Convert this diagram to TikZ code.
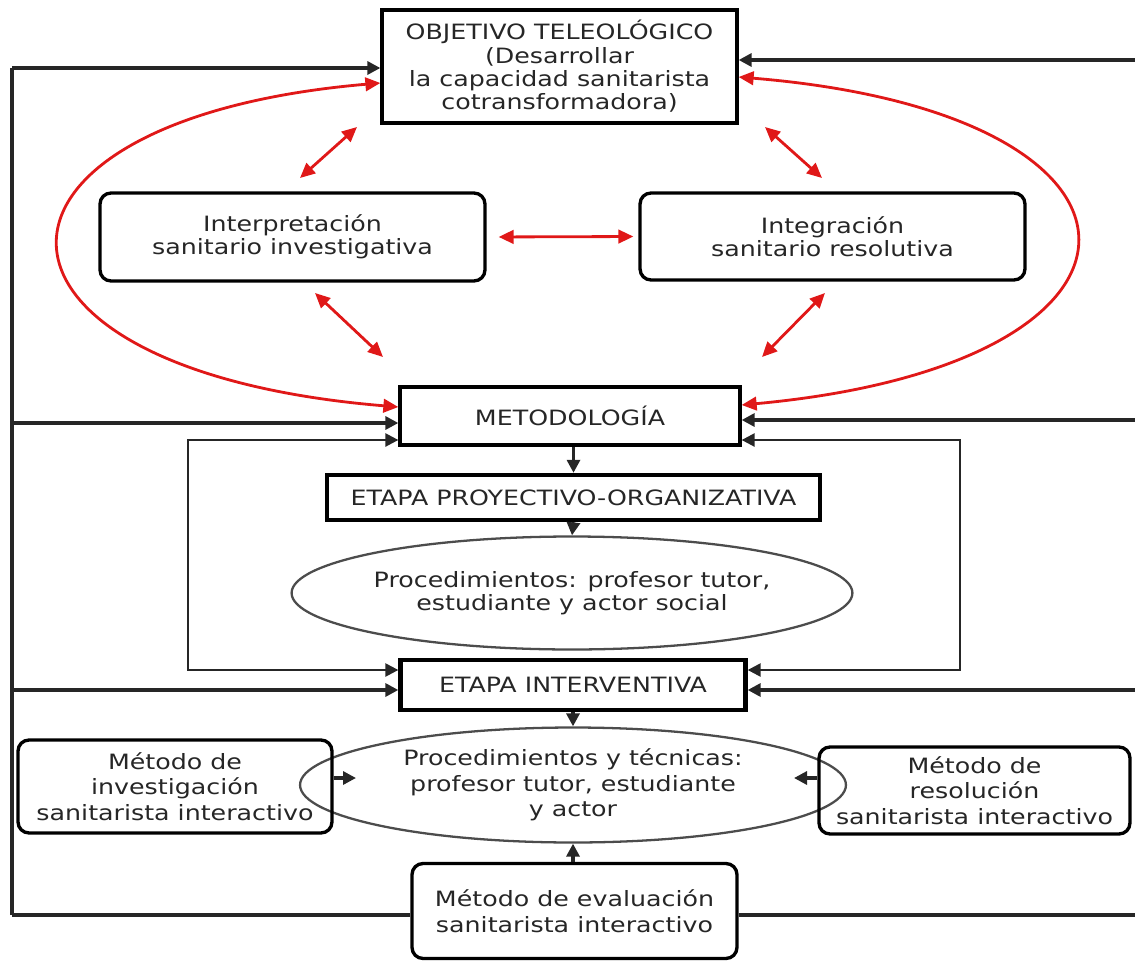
\documentclass[tikz,border=0pt]{standalone}
\usepackage{fontspec}
\setmainfont{DejaVu Sans}[FakeStretch=1.2]
\usetikzlibrary{arrows.meta,shapes.geometric,calc}
\definecolor{rd}{HTML}{E01818}
\begin{document}
\begin{tikzpicture}[x=0.02cm,y=-0.02cm,
  font=\fontsize{12}{13.3}\selectfont,
  loose/.style={font=\fontsize{12}{14.6}\selectfont},
  box/.style={draw, line width=1.9pt, align=center, inner sep=0pt, text=black!85},
  rbox/.style={box, rounded corners=0.22cm},
  ell/.style={draw=black!70, line width=1.3pt, ellipse, inner sep=0pt, align=center, text=black!85},
  blk/.style={line width=1.8pt, draw=black!85},
  thin/.style={line width=1.4pt, draw=black!85},
  arr/.style={blk, -{Triangle[length=0.26cm,width=0.26cm]}},
  tarr/.style={thin, -{Triangle[length=0.26cm,width=0.26cm]}},
  rarr/.style={line width=1.6pt, draw=rd, {Triangle[length=0.3cm,width=0.27cm]}-{Triangle[length=0.3cm,width=0.27cm]}}]
\useasboundingbox (0,0) rectangle (1135,963);

% nodes
\node[box, minimum width=7.1cm, minimum height=2.26cm] (obj) at (559.5,66.5) {OBJETIVO TELEOLÓGICO\\(Desarrollar\\la capacidad sanitarista\\cotransformadora)};
\node[rbox, minimum width=7.7cm, minimum height=1.76cm] (interp) at (292.5,237) {Interpretación\\sanitario investigativa};
\node[rbox, minimum width=7.7cm, minimum height=1.74cm] (integ) at (832.5,236.5) {Integración\\sanitario resolutiva};
\node[box, minimum width=6.8cm, minimum height=1.16cm] (met) at (570,416) {METODOLOGÍA};
\node[box, line width=2.5pt, minimum width=9.86cm, minimum height=0.9cm] (proy) at (573.5,497.5) {ETAPA PROYECTIVO-ORGANIZATIVA};
\node[ell, minimum width=11.2cm, minimum height=2.26cm] (e1) at (572,593) {Procedimientos: profesor tutor,\\estudiante y actor social};
\node[box, line width=2.5pt, minimum width=6.9cm, minimum height=1.0cm] (inter) at (573,685) {ETAPA INTERVENTIVA};
\node[ell, loose, minimum width=10.92cm, minimum height=2.3cm] (e2) at (573,785) {Procedimientos y técnicas:\\profesor tutor, estudiante\\y actor};
\node[rbox, loose, minimum width=6.28cm, minimum height=1.86cm] (minv) at (175,786.5) {Método de\\investigación\\sanitarista interactivo};
\node[rbox, loose, minimum width=6.22cm, minimum height=1.74cm] (mres) at (974.5,790.5) {Método de\\resolución\\sanitarista interactivo};
\node[rbox, loose, minimum width=6.5cm, minimum height=1.9cm] (meval) at (574.5,911) {Método de evaluación\\sanitarista interactivo};

% coordinates
\coordinate (fTL) at (12,68);
\coordinate (fBL) at (12,915);
\coordinate (fR1) at (1135,60);
\coordinate (fL2) at (12,423);
\coordinate (fR2) at (1135,420);
\coordinate (fL3) at (12,690);
\coordinate (fR3) at (1135,690);
\coordinate (fBR) at (1135,915);
\coordinate (ilt) at (188,440);
\coordinate (ilb) at (188,670);
\coordinate (irt) at (960,440);
\coordinate (irb) at (960,670);
\coordinate (pin) at (356,778);
\coordinate (pres) at (794,778);
\coordinate (d1a) at (300,178); \coordinate (d1b) at (357,127);
\coordinate (d2a) at (765,127); \coordinate (d2b) at (822,178);
\coordinate (d3a) at (315,293); \coordinate (d3b) at (383,357);
\coordinate (d4a) at (825,293); \coordinate (d4b) at (762,357);

% black frame
\draw[blk] (fBL) -- (fTL);
\draw[arr] (fTL) -- (obj.west |- fTL);
\draw[arr] (fR1) -- (obj.east |- fR1);
\draw[arr] (fL2) -- (met.west |- fL2);
\draw[arr] (fR2) -- (met.east |- fR2);
\draw[arr] (fL3) -- (inter.west |- fL3);
\draw[arr] (fR3) -- (inter.east |- fR3);
\draw[blk] (fBL) -- (meval.west |- fBL);
\draw[blk] (meval.east |- fBR) -- (fBR);

% inner loops
\draw[tarr] (ilb) -- (ilt) -- (met.west |- ilt);
\draw[tarr] (ilt) -- (ilb) -- (inter.west |- ilb);
\draw[tarr] (irb) -- (irt) -- (met.east |- irt);
\draw[tarr] (irt) -- (irb) -- (inter.east |- irb);

% vertical flow
\draw[arr] (met.south -| proy) -- (proy.north);
\draw[arr] (proy.south) -- (e1.north);
\draw[arr] (inter.south) -- (inter.south |- e2.north);
\draw[arr] (meval.north -| e2) -- (e2.south);
\draw[arr] (minv.east |- pin) -- (pin);
\draw[arr] (mres.west |- pres) -- (pres);

% red arrows
\draw[rarr] (obj.west |- 0,83) .. controls (-50,120) and (-50,370) .. (met.west |- 0,407);
\draw[rarr] (obj.east |- 0,77) .. controls (1187,114) and (1187,364) .. (met.east |- 0,405);
\draw[rarr, shorten <=0.24cm, shorten >=0.1cm] (interp.east) -- (integ.west);
\draw[rarr] (d1a) -- (d1b);
\draw[rarr] (d2a) -- (d2b);
\draw[rarr] (d3a) -- (d3b);
\draw[rarr] (d4a) -- (d4b);
\end{tikzpicture}
\end{document}
